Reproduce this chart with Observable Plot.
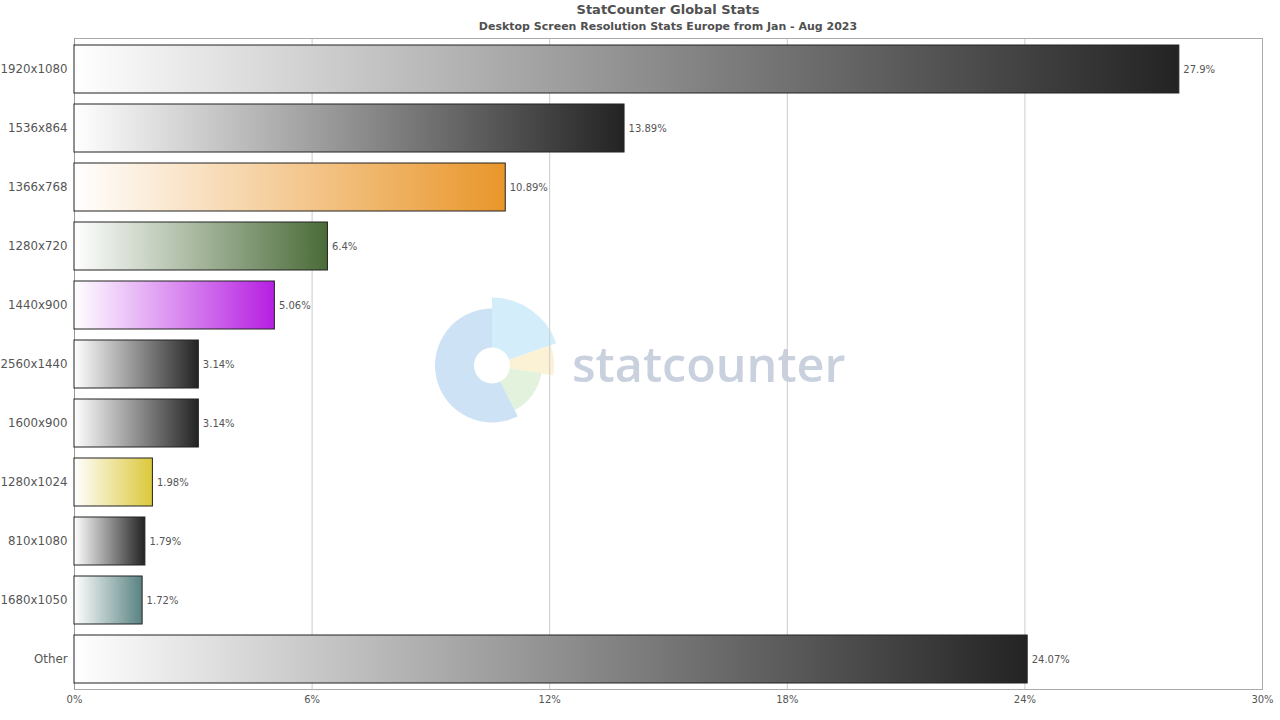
<!DOCTYPE html>
<html>
<head>
<meta charset="utf-8">
<script src="https://cdn.jsdelivr.net/npm/d3@7"></script>
<script src="https://cdn.jsdelivr.net/npm/@observablehq/plot@0.6"></script>
<style>
  html, body { margin: 0; padding: 0; background: #fff; }
  #header { margin-left: 74px; width: 1188px; height: 36px; text-align: center; font-family: "DejaVu Sans", sans-serif; color: #505050; }
  #title { font-weight: bold; font-size: 13px; line-height: 16px; padding-top: 2px; }
  #subtitle { font-weight: bold; font-size: 11px; line-height: 14px; padding-top: 2px; }
  #chart svg { display: block; }
</style>
</head>
<body>
<div id="header">
  <div id="title">StatCounter Global Stats</div>
  <div id="subtitle">Desktop Screen Resolution Stats Europe from Jan - Aug 2023</div>
</div>
<div id="chart"></div>
<script>
const categories = ["1920x1080", "1536x864", "1366x768", "1280x720", "1440x900", "2560x1440", "1600x900", "1280x1024", "810x1080", "1680x1050", "Other"];
const values = [27.9, 13.89, 10.89, 6.4, 5.06, 3.14, 3.14, 1.98, 1.79, 1.72, 24.07];
const barColors = ["#232323", "#232323", "#e9962a", "#4a6b38", "#b61fe2", "#232323", "#232323", "#dcc83a", "#232323", "#5a8282", "#232323"];
const xTicks = [0, 6, 12, 18, 24, 30];
const gridTicks = [6, 12, 18, 24];

const data = categories.map((c, i) => ({cat: c, value: values[i], grad: `url(#grad${i})`}));

const svgNS = "http://www.w3.org/2000/svg";

function defsMark() {
  const defs = document.createElementNS(svgNS, "defs");
  barColors.forEach((col, i) => {
    const g = document.createElementNS(svgNS, "linearGradient");
    g.setAttribute("id", `grad${i}`);
    g.setAttribute("x1", "0"); g.setAttribute("x2", "1");
    g.setAttribute("y1", "0"); g.setAttribute("y2", "0");
    const s0 = document.createElementNS(svgNS, "stop");
    s0.setAttribute("offset", "0"); s0.setAttribute("stop-color", "#ffffff");
    const s1 = document.createElementNS(svgNS, "stop");
    s1.setAttribute("offset", "1"); s1.setAttribute("stop-color", col);
    g.appendChild(s0); g.appendChild(s1);
    defs.appendChild(g);
  });
  return defs;
}

function watermark(index, scales, values, dims) {
  const cx = (dims.marginLeft + dims.width - dims.marginRight) / 2;
  const cy = (dims.marginTop + dims.height - dims.marginBottom) / 2;
  const g = d3.create("svg:g");
  const lx = cx - 176, ly = cy + 2;
  const rad = Math.PI / 180;
  const segs = [
    {a0: 0, a1: 71, r: 68, c: "#d3eefa"},
    {a0: 71, a1: 99, r: 62, c: "#fbf1d5"},
    {a0: 99, a1: 153, r: 50, c: "#e3f2dd"},
    {a0: 153, a1: 360, r: 57, c: "#cde2f5"}
  ];
  const arc = d3.arc();
  segs.forEach(s => {
    g.append("path")
      .attr("transform", `translate(${lx},${ly})`)
      .attr("fill", s.c)
      .attr("d", arc({innerRadius: 18, outerRadius: s.r, startAngle: s.a0 * rad, endAngle: s.a1 * rad}));
  });
  g.append("text")
    .attr("x", cx - 96)
    .attr("y", ly + 16)
    .attr("text-anchor", "start")
    .attr("fill", "#c9d1df")
    .attr("font-family", "Open Sans")
    .attr("font-weight", 600)
    .attr("font-size", 48.5)
    .text("statcounter");
  return g.node();
}

const chart = Plot.plot({
  width: 1280,
  height: 684,
  marginLeft: 74,
  marginRight: 18,
  marginTop: 2,
  marginBottom: 31,
  style: {fontFamily: "DejaVu Sans", fontSize: "12px", color: "#555", background: "#fff"},
  x: {domain: [0, 30], ticks: xTicks, label: null},
  y: {domain: categories, paddingInner: 0.1866, paddingOuter: 0.1, label: null},
  color: {type: "identity"},
  marks: [
    defsMark,
    watermark,
    Plot.ruleX(gridTicks, {stroke: "#cccccc", strokeWidth: 1}),
    Plot.frame({stroke: "#aaaaaa", strokeWidth: 1}),
    Plot.ruleX([0], {stroke: "#999999", strokeWidth: 1}),
    Plot.barX(data, {y: "cat", x: "value", fill: "grad", stroke: "#222", strokeWidth: 1, inset: 0}),
    Plot.text(data, {y: "cat", x: "value", text: d => `${d.value}%`, dx: 4, textAnchor: "start", fontSize: 10, fill: "#555"}),
    Plot.axisX({ticks: xTicks, tickFormat: d => `${d}%`, tickSize: 0, tickPadding: 6, fontSize: 10, fill: "#555", label: null}),
    Plot.axisY({tickSize: 0, tickPadding: 7, fontSize: 11.8, fill: "#555", label: null})
  ]
});
document.getElementById("chart").appendChild(chart);
</script>
</body>
</html>
